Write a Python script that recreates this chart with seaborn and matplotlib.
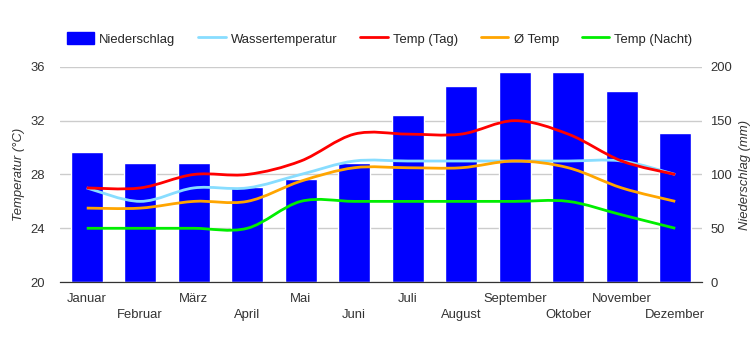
# Klimadiagramm: Niederschlag (Balken) und Temperaturen (geglättete Linien)
import matplotlib
matplotlib.use('Agg')
import matplotlib.pyplot as plt
import matplotlib.transforms as mtrans
from matplotlib.path import Path
from matplotlib.patches import PathPatch
from matplotlib.lines import Line2D
from matplotlib.patches import Patch
import pandas as pd
import seaborn as sns

monate = ['Januar', 'Februar', 'März', 'April', 'Mai', 'Juni', 'Juli',
          'August', 'September', 'Oktober', 'November', 'Dezember']
niederschlag = [121, 111, 111, 88, 96, 111, 155, 182, 195, 195, 178, 139]
wasser = [27, 26, 27, 27, 28, 29, 29, 29, 29, 29, 29, 28]
temp_tag = [27, 27, 28, 28, 29, 31, 31, 31, 32, 31, 29, 28]
temp_mittel = [25.5, 25.5, 26, 26, 27.5, 28.5, 28.5, 28.5, 29, 28.5, 27, 26]
temp_nacht = [24, 24, 24, 24, 26, 26, 26, 26, 26, 26, 25, 24]

sns.set_style('white')
plt.rcParams['font.family'] = ['Liberation Sans', 'DejaVu Sans']
fs = 9.4
txt = '#333333'

df = pd.DataFrame({'monat': monate, 'mm': niederschlag})

fig = plt.figure(figsize=(7.5, 3.5), dpi=100)
ax = fig.add_axes([0.08, 0.194, 0.856, 0.615])
ax2 = ax.twinx()

# Balken auf der rechten Achse
sns.barplot(data=df, x='monat', y='mm', color='#0000ff', saturation=1,
            width=0.6, ax=ax2, zorder=2)
ax2.set_ylim(0, 200)
ax2.set_yticks([0, 50, 100, 150, 200])
ax2.grid(axis='y', color='#cccccc', linewidth=1, zorder=0)
ax2.set_axisbelow(True)
ax2.set_ylabel('Niederschlag (mm)', fontstyle='italic', fontsize=fs,
               color=txt, labelpad=5)
ax2.set_xlabel('')

# Linien über den Balken
ax.set_zorder(ax2.get_zorder() + 1)
ax.patch.set_visible(False)


def glatte_linie(axis, werte, farbe):
    n = len(werte)
    pts = [(float(i), float(v)) for i, v in enumerate(werte)]
    verts = [pts[0]]
    codes = [Path.MOVETO]
    s = 1 / 6
    for i in range(n - 1):
        p0 = pts[max(i - 1, 0)]
        p1 = pts[i]
        p2 = pts[i + 1]
        p3 = pts[min(i + 2, n - 1)]
        c1 = (p1[0] + (p2[0] - p0[0]) * s, p1[1] + (p2[1] - p0[1]) * s)
        c2 = (p2[0] - (p3[0] - p1[0]) * s, p2[1] - (p3[1] - p1[1]) * s)
        verts += [c1, c2, p2]
        codes += [Path.CURVE4] * 3
    axis.add_patch(PathPatch(Path(verts, codes), facecolor='none',
                             edgecolor=farbe, linewidth=2, zorder=3))


farben = {'Wassertemperatur': '#88ddff', 'Temp (Tag)': '#ff0000',
          'Ø Temp': '#ffa500', 'Temp (Nacht)': '#00ee00'}
glatte_linie(ax, wasser, farben['Wassertemperatur'])
glatte_linie(ax, temp_tag, farben['Temp (Tag)'])
glatte_linie(ax, temp_mittel, farben['Ø Temp'])
glatte_linie(ax, temp_nacht, farben['Temp (Nacht)'])

ax.set_ylim(20, 36)
ax.set_yticks([20, 24, 28, 32, 36])
ax.set_xlim(-0.5, 11.5)
ax.set_ylabel('Temperatur (°C)', fontstyle='italic', fontsize=fs, color=txt)

ax.set_xticks(range(12))
ax.set_xticklabels(monate)
ax.tick_params(axis='x', labelbottom=True)

for a in (ax, ax2):
    a.tick_params(length=0, labelsize=fs, colors=txt)
    for s in ['top', 'left', 'right']:
        a.spines[s].set_visible(False)
    a.spines['bottom'].set_color('#333333')
ax.tick_params(axis='y', pad=11)
ax2.tick_params(axis='y', pad=6)
ax.tick_params(axis='x', pad=8)

# versetzte Monatsnamen: jede zweite Beschriftung eine Zeile tiefer
versatz = mtrans.ScaledTranslation(0, -16 / 100, fig.dpi_scale_trans)
for i, tick in enumerate(ax.xaxis.get_major_ticks()):
    if i % 2 == 1:
        tick.label1.set_transform(tick.label1.get_transform() + versatz)

handles = [Patch(color='#0000ff', label='Niederschlag')]
for name, f in farben.items():
    handles.append(Line2D([0], [0], color=f, linewidth=2, label=name))
fig.legend(handles=handles, loc='center left', bbox_to_anchor=(0.073, 0.889),
           ncol=5, frameon=False, fontsize=fs, handlelength=2.1,
           handleheight=1.0, columnspacing=1.75, handletextpad=0.4)

fig.savefig('out.png', dpi=100)
